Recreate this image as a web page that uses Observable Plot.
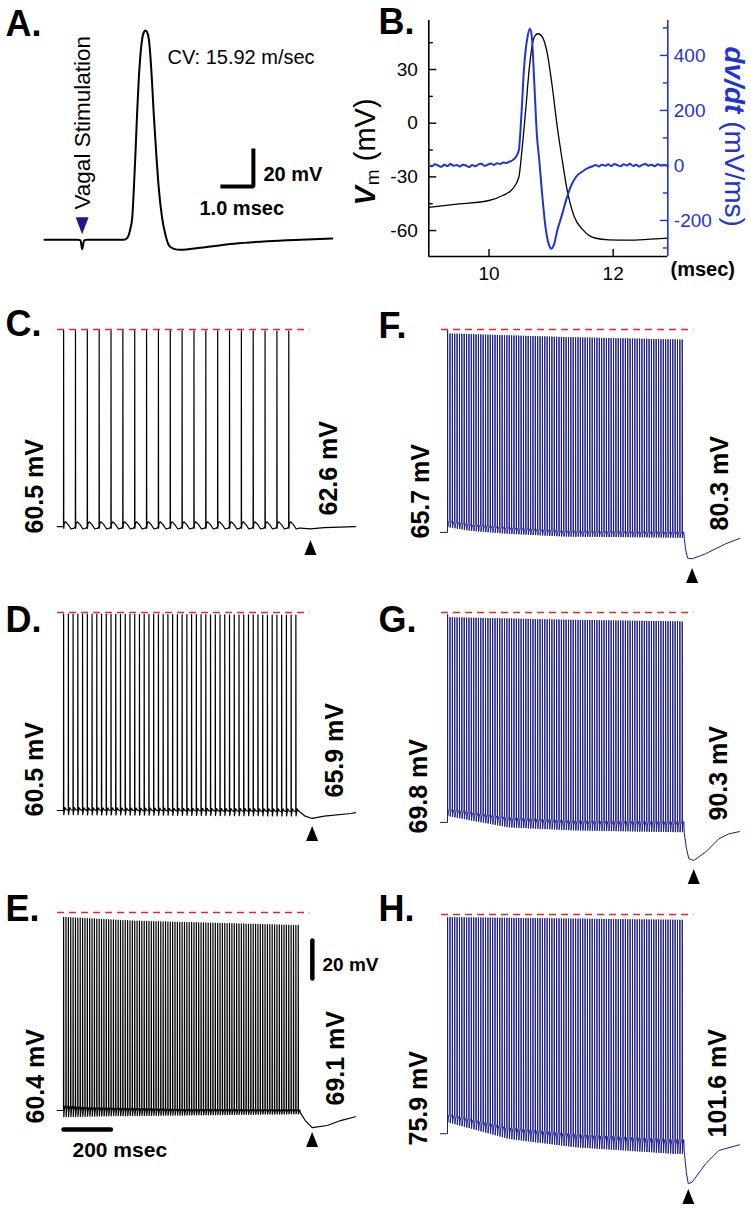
<!DOCTYPE html>
<html>
<head>
<meta charset="utf-8">
<script src="https://cdn.jsdelivr.net/npm/d3@7"></script>
<script src="https://cdn.jsdelivr.net/npm/@observablehq/plot@0.6"></script>
<style>
  html,body{margin:0;padding:0;background:#fff;}
  #fig{position:relative;width:751px;height:1212px;overflow:hidden;background:#fff;}
  #fig svg{position:absolute;}
</style>
</head>
<body>
<div id="fig"></div>
<script>
// ================= DATA =================
// Panel A: compound action potential after vagal stimulation  [ms, mV]
const traceA = [[0,-64.6],[0.99,-64.6],[1.09,-64.8],[1.14,-69.6],[1.2,-64.9],[1.29,-64.6],[2.4,-64.6],[2.51,-63.6],[2.59,-59.7],[2.66,-52.7],[2.71,-36.9],[2.76,-17.6],[2.81,3.4],[2.86,21],[2.91,33.2],[2.96,41.1],[3.01,44.6],[3.06,45.5],[3.11,44.6],[3.16,41.1],[3.21,31.8],[3.26,17.9],[3.31,1.7],[3.38,-17.6],[3.46,-36.9],[3.56,-52.7],[3.67,-62.4],[3.77,-67.6],[3.92,-69.4],[4.12,-69.9],[4.73,-68.8],[5.74,-66.7],[6.75,-65.4],[7.76,-64.6],[8.72,-64]];
const stimTimeA = [1.14];
const cvText = "CV: 15.92 m/sec";
const stimText = "Vagal Stimulation";
const scaleBarA = {ms: 1.0, mV: 20, msText: "1.0 msec", mVText: "20 mV"};

// Panel B: membrane potential [ms, mV] and its derivative [ms, mV/ms]
const vmB = [[9.03,-47.0],[9.52,-45.1],[10.0,-43.2],[10.22,-40.4],[10.38,-36.7],[10.48,-30.2],[10.53,-15.3],[10.59,7.1],[10.65,31.3],[10.70,44.4],[10.74,48.8],[10.79,50.0],[10.86,48.1],[10.94,38.8],[11.02,20.1],[11.10,-2.2],[11.18,-20.8],[11.26,-37.6],[11.37,-52],[11.51,-59.5],[11.6,-62.5],[11.72,-64.3],[11.93,-65.2],[12.26,-65.4],[12.6,-64.8],[12.88,-64.3]];
const dvdtB = [[9.03,2],[9.08,-3],[9.13,4],[9.18,0],[9.23,-5],[9.28,3],[9.33,-2],[9.38,5],[9.43,-1],[9.48,2],[9.53,-4],[9.58,3],[9.63,0],[9.68,-6],[9.73,2],[9.78,-3],[9.83,4],[9.88,6],[9.93,-2],[9.98,3],[10.03,7],[10.08,2],[10.13,8],[10.18,5],[10.23,11],[10.28,9],[10.33,14],[10.38,19],[10.43,30],[10.48,55],[10.52,176],[10.565,357],[10.62,467],[10.66,497],[10.69,467],[10.73,297],[10.77,115],[10.81,18],[10.86,-115],[10.91,-224],[10.97,-291],[11.0,-303],[11.05,-285],[11.10,-236],[11.18,-176],[11.24,-127],[11.32,-75],[11.40,-42],[11.51,-21],[11.59,-10],[11.67,-3],[11.72,2],[11.77,-4],[11.82,3],[11.87,-1],[11.92,4],[11.97,-2],[12.02,5],[12.07,1],[12.12,-3],[12.17,4],[12.22,0],[12.27,6],[12.32,-2],[12.37,3],[12.42,-4],[12.47,2],[12.52,5],[12.57,-1],[12.62,3],[12.67,-3],[12.72,4],[12.77,0],[12.82,2],[12.88,-1]];
const bxDomain = [9.03, 12.88];
const byDomain = [-74.5, 57.4];
const byDomainR = [-331, 527];
const bTicksX = [10, 12];
const bTicksY = [-60, -30, 0, 30];
const bMinorY = [-45, -15, 15, 45];
const bTicksR = [-200, 0, 200, 400];
const bMinorR = [-300, -100, 100, 300, 500];
const bUnitX = "(msec)";

// Panels C-H: spike trains during vagal stimulation
const panelIds = ["C", "D", "E", "F", "G", "H"];
const spikeCounts = [20, 50, 100, 100, 100, 100];
const spikeISI = [50, 20, 10, 10, 10, 10];           // ms between spikes
const preStart = [-27, -27, -27, -30, -30, -30];       // ms, trace start
const restingMV = [-63.7, -64.2, -64.2, -66.8, -70.5, -75.4];
const peakRefMV = 40;                                  // red dashed level
const redSpan = [-25, 1040];
const peakMV = [
  [[0,39.5],[950,39.2]],
  [[0,39.2],[980,38.6]],
  [[0,37.5],[300,35.5],[990,33.2]],
  [[0,39.8],[10,37.9],[500,36],[990,34.7]],
  [[0,39],[10,37.5],[500,36.2],[990,35.3]],
  [[0,38.6],[990,37.2]]
];
const upperMV = [
  [[0,-61.2],[950,-61.2]],
  [[0,-62.7],[980,-63.4]],
  [[0,-61.5],[100,-62.5],[500,-63.5],[990,-63.8]],
  [[0,-60.5],[100,-62.5],[250,-64],[500,-66],[990,-66.5]],
  [[0,-63.3],[258,-67.7],[540,-69.5],[962,-69.8]],
  [[0,-64.9],[258,-71.9],[540,-75.4],[962,-78.1]]
];
const lowerMV = [
  [[0,-65],[950,-65]],
  [[0,-66.4],[980,-67.1]],
  [[0,-67.5],[200,-67],[990,-66]],
  [[0,-64],[100,-66],[250,-67.5],[500,-69],[990,-69.6]],
  [[0,-67.1],[258,-73.1],[540,-74.7],[962,-75.6]],
  [[0,-69.3],[258,-78.1],[540,-82.5],[962,-86]]
];
const afterTrainMV = [
  [[1000,-64.5],[1042,-64.9],[1100,-64.3],[1232,-63.7]],
  [[1000,-65.3],[1020,-67.2],[1049,-68.4],[1100,-67.2],[1213,-65.8],[1232,-65.3]],
  [[999,-65.3],[1020,-69.5],[1049,-73.2],[1113,-72.1],[1169,-69.5],[1232,-67.5]],
  [[999,-70],[1005,-76],[1013,-80.3],[1032,-80.7],[1088,-78.1],[1173,-72.8],[1232,-70]],
  [[999,-76],[1008,-84],[1018,-89.6],[1039,-90.5],[1089,-86.1],[1145,-79.1],[1187,-76.5],[1232,-75.3]],
  [[999,-85],[1008,-96],[1016,-101.7],[1032,-100.9],[1089,-91.2],[1145,-84.2],[1232,-81.2]]
];
// shape of one inter-spike interval: [ms after spike, fraction between lower(0) and upper(1) envelope]
const waveTemplates = {
  20: {pre: 0.34, after: [[1.2,0.1],[3,0.74],[8,1],[20,0.6],[32,0],[45,0.13]]},
  50: {pre: 0.6, after: [[1.2,0],[3,0.4],[6,1],[12,0.7]]},
  100: {pre: 1, after: [[1.2,0],[3.5,0.6],[7,0.95]]}
};
const stimRateHz = [20, 50, 100, 100, 100, 100];
const leftLabels = ["60.5 mV", "60.5 mV", "60.4 mV", "65.7 mV", "69.8 mV", "75.9 mV"];
const rightLabels = ["62.6 mV", "65.9 mV", "69.1 mV", "80.3 mV", "90.3 mV", "101.6 mV"];
const scaleBarE = {mV: 20, ms: 200, mVText: "20 mV", msText: "200 msec"};
const panelLetters = ["A.", "B.", "C.", "D.", "E.", "F.", "G.", "H."];

// ================= LAYOUT / STYLE =================
const FONT = "Liberation Sans, Arial, Helvetica, sans-serif";
const NAVY = "#1b1b8c";
const BLUE = "#2233d4";
const RED = "#e0282a";
const panelBox = [
  {left: 0, top: 299, width: 375, height: 300, color: "#000"},
  {left: 0, top: 582, width: 375, height: 300, color: "#000"},
  {left: 0, top: 882, width: 375, height: 330, color: "#000"},
  {left: 384, top: 299, width: 367, height: 300, color: NAVY},
  {left: 384, top: 582, width: 367, height: 300, color: NAVY},
  {left: 384, top: 884, width: 367, height: 328, color: NAVY}
];
const arrowDy = [18.7, 15, 12, 16.7, 16, 12.8];
const letterXY = [[5,35],[378,33],[5,335],[5,631],[5,920],[378,337],[378,631],[378,920]];
const leftLabelXY = [[34,533],[34,816],[35,1123],[420,538],[418,833],[418,1145]];
const rightLabelXY = [[328,515],[334,797],[335,1105],[719,530],[718,820],[717,1137]];

const fig = document.getElementById("fig");
function place(svg, left, top) {
  svg.style.position = "absolute";
  svg.style.left = left + "px";
  svg.style.top = top + "px";
  svg.style.background = "transparent";
  svg.style.overflow = "visible";
  fig.appendChild(svg);
}
function interp(knots, t) {
  if (t <= knots[0][0]) return knots[0][1];
  for (let i = 1; i < knots.length; i++) {
    if (t <= knots[i][0]) {
      const [t0, v0] = knots[i - 1], [t1, v1] = knots[i];
      return v0 + (v1 - v0) * (t - t0) / (t1 - t0);
    }
  }
  return knots[knots.length - 1][1];
}
function triSymbol(w, h, down) {
  return {draw(ctx, size) {
    const s = Math.sqrt(size / Math.PI) / 5, a = w / 2 * s, b = h / 2 * s;
    if (down) { ctx.moveTo(-a, -b); ctx.lineTo(a, -b); ctx.lineTo(0, b); }
    else { ctx.moveTo(0, -b); ctx.lineTo(a, b); ctx.lineTo(-a, b); }
    ctx.closePath();
  }};
}
const X = d => d[0], Y = d => d[1];

// ---------- Panel A ----------
{
  const base = traceA[0][1];
  const x0 = 5.33, v0 = -36.6; // scale bar corner
  const A = Plot.plot({
    width: 375, height: 300, margin: 0,
    x: {domain: [0, 1], range: [44, 77], axis: null},
    y: {domain: [-65, -45], range: [240, 202], axis: null},
    marks: [
      Plot.line(traceA, {x: X, y: Y, stroke: "#000", strokeWidth: 2, curve: "monotone-x"}),
      Plot.dot(stimTimeA, {x: d => d, y: () => base, dy: -14, r: 5, symbol: triSymbol(13, 17, true), fill: NAVY, stroke: "none"}),
      Plot.line([[x0, v0], [x0 + scaleBarA.ms, v0], [x0 + scaleBarA.ms, v0 + scaleBarA.mV]], {x: X, y: Y, stroke: "#000", strokeWidth: 4, strokeLinejoin: "miter", strokeLinecap: "butt"})
    ]
  });
  place(A, 0, 0);
}

// ---------- Panel B ----------
{
  const dims = {width: 376, height: 300, marginLeft: 53.3, marginRight: 83.7, marginTop: 20, marginBottom: 44};
  const fw = 376 - 53.3 - 83.7, fh = 300 - 20 - 44;
  const B1 = Plot.plot({
    ...dims,
    style: {background: "transparent", fontFamily: FONT},
    x: {domain: bxDomain, axis: null},
    y: {domain: byDomain, axis: null},
    marks: [
      Plot.line(vmB, {x: X, y: Y, stroke: "#000", strokeWidth: 1.3, curve: "monotone-x"}),
      Plot.ruleX([bxDomain[0]], {stroke: "#000", strokeWidth: 1.6}),
      Plot.ruleY([byDomain[0]], {stroke: "#000", strokeWidth: 1.6}),
      Plot.tickY(bTicksY, {y: d => d, insetRight: fw - 8, stroke: "#000", strokeWidth: 1.4}),
      Plot.tickY(bMinorY, {y: d => d, insetRight: fw - 4.5, stroke: "#000", strokeWidth: 1.4}),
      Plot.tickX(bTicksX, {x: d => d, insetTop: fh - 7, stroke: "#000", strokeWidth: 1.4}),
      Plot.axisY({ticks: bTicksY, tickSize: 0, tickPadding: 11, fontSize: 19, label: null, tickFormat: d => String(d), fontFamily: FONT}),
      Plot.axisX({ticks: bTicksX, tickSize: 0, tickPadding: 10, fontSize: 19, label: null, tickFormat: d => String(d), fontFamily: FONT})
    ]
  });
  place(B1, 375, 0);
  const B2 = Plot.plot({
    ...dims,
    style: {background: "transparent", color: BLUE, fontFamily: FONT},
    x: {domain: bxDomain, axis: null},
    y: {domain: byDomainR, axis: null},
    marks: [
      Plot.line(dvdtB, {x: X, y: Y, stroke: BLUE, strokeWidth: 2, curve: "monotone-x"}),
      Plot.ruleX([bxDomain[1]], {stroke: BLUE, strokeWidth: 1.6}),
      Plot.tickY(bTicksR, {y: d => d, insetLeft: fw - 7.5, stroke: BLUE, strokeWidth: 1.4}),
      Plot.tickY(bMinorR, {y: d => d, insetLeft: fw - 4.5, stroke: BLUE, strokeWidth: 1.4}),
      Plot.axisY({anchor: "right", ticks: bTicksR, tickSize: 0, tickPadding: 6, fontSize: 19, label: null, tickFormat: d => String(d), fill: BLUE, fontFamily: FONT})
    ]
  });
  place(B2, 375, 0);
}

// ---------- Panels C-H ----------
function trainTrace(k) {
  const w = waveTemplates[stimRateHz[k]];
  const lev = (t, f) => { const lo = interp(lowerMV[k], t), hi = interp(upperMV[k], t); return lo + f * (hi - lo); };
  const pts = [[preStart[k], restingMV[k]], [0, restingMV[k]]];
  for (let i = 0; i < spikeCounts[k]; i++) {
    const ts = i * spikeISI[k];
    if (i > 0) pts.push([ts, lev(ts, w.pre)]);
    pts.push([ts + 0.5, interp(peakMV[k], ts)]);
    for (const [dt, f] of w.after) pts.push([ts + dt, lev(ts + dt, f)]);
  }
  return pts.concat(afterTrainMV[k]);
}
panelIds.forEach((id, k) => {
  const box = panelBox[k];
  const post = afterTrainMV[k];
  const minPt = post.reduce((a, b) => (b[1] < a[1] ? b : a));
  const marks = [
    Plot.line(trainTrace(k), {x: X, y: Y, stroke: box.color, strokeWidth: box.color === "#000" ? 1.2 : 1, curve: "linear"}),
    Plot.ruleY([peakRefMV], {x1: redSpan[0], x2: redSpan[1], stroke: RED, strokeWidth: 1.4, strokeDasharray: "7,5"}),
    Plot.dot([minPt], {x: X, y: Y, dy: arrowDy[k], r: 5, symbol: triSymbol(12, 15, false), fill: "#000", stroke: "none"})
  ];
  if (id === "E") {
    const tb = 1050, vb = 5.3, vh = -74.2;
    marks.push(Plot.line([[tb, vb], [tb, vb + scaleBarE.mV]], {x: X, y: Y, stroke: "#000", strokeWidth: 4.5}));
    marks.push(Plot.line([[0, vh], [scaleBarE.ms, vh]], {x: X, y: Y, stroke: "#000", strokeWidth: 4.5}));
  }
  const P = Plot.plot({
    width: box.width, height: box.height, margin: 0,
    x: {domain: [0, 1000], range: [63, 300], axis: null},
    y: {domain: [-100, 40], range: [296, 30], axis: null},
    marks
  });
  place(P, box.left, box.top);
});

// ---------- Text layer ----------
const ctx = document.createElement("canvas").getContext("2d");
function textW(str, font) { ctx.font = font; return ctx.measureText(str).width; }
const MF = '"Liberation Sans", Arial, sans-serif';
const T = (items, opts) => Plot.text(items, {x: "x", y: "y", text: "t", fontFamily: FONT, fill: "#000", ...opts});
const letters = panelLetters.map((t, i) => ({t, x: letterXY[i][0], y: letterXY[i][1]}));
const sideLabels = leftLabels.map((t, i) => ({t, x: leftLabelXY[i][0], y: leftLabelXY[i][1]}))
  .concat(rightLabels.map((t, i) => ({t, x: rightLabelXY[i][0], y: rightLabelXY[i][1]})));
// B: mixed-style axis titles
const vx = 365, vy = 205;
const wV = textW("V", `italic bold 29px ${MF}`), wm = textW("m", `19px ${MF}`);
const dvx = 733, dvy = 46;
const wdv = textW("dv/dt", `italic bold 28px ${MF}`);
const annotations = Plot.plot({
  width: 751, height: 1212, margin: 0, axis: null,
  x: {type: "identity"}, y: {type: "identity"},
  style: {background: "transparent"},
  marks: [
    T(letters, {fontSize: 36, fontWeight: "bold", textAnchor: "start", lineAnchor: "bottom"}),
    T(sideLabels, {fontSize: 25, fontWeight: "bold", rotate: -90, textAnchor: "start", lineAnchor: "middle"}),
    T([{t: cvText, x: 167, y: 63}], {fontSize: 20, textAnchor: "start", lineAnchor: "bottom"}),
    T([{t: stimText, x: 82, y: 209}], {fontSize: 22.5, rotate: -90, textAnchor: "start", lineAnchor: "middle"}),
    T([{t: scaleBarA.mVText, x: 263, y: 180}, {t: scaleBarA.msText, x: 199, y: 214}], {fontSize: 20, fontWeight: "bold", textAnchor: "start", lineAnchor: "bottom"}),
    T([{t: scaleBarE.mVText, x: 322, y: 970}], {fontSize: 19, fontWeight: "bold", textAnchor: "start", lineAnchor: "bottom"}),
    T([{t: scaleBarE.msText, x: 72, y: 1156}], {fontSize: 21, fontWeight: "bold", textAnchor: "start", lineAnchor: "bottom"}),
    T([{t: bUnitX, x: 670, y: 275}], {fontSize: 20, fontWeight: "bold", textAnchor: "start", lineAnchor: "bottom"}),
    T([{t: "V", x: vx, y: vy}], {fontSize: 29, fontWeight: "bold", fontStyle: "italic", rotate: -90, textAnchor: "start", lineAnchor: "middle"}),
    T([{t: "m", x: vx + 7.5, y: vy - wV - 1}], {fontSize: 19, rotate: -90, textAnchor: "start", lineAnchor: "middle"}),
    T([{t: " (mV)", x: vx, y: vy - wV - wm - 1}], {fontSize: 29, rotate: -90, textAnchor: "start", lineAnchor: "middle"}),
    T([{t: "dv/dt", x: dvx, y: dvy}], {fontSize: 28, fontWeight: "bold", fontStyle: "italic", rotate: 90, textAnchor: "start", lineAnchor: "middle", fill: BLUE}),
    T([{t: " (mV/ms)", x: dvx, y: dvy + wdv}], {fontSize: 28, rotate: 90, textAnchor: "start", lineAnchor: "middle", fill: BLUE})
  ]
});
place(annotations, 0, 0);
</script>
</body>
</html>
